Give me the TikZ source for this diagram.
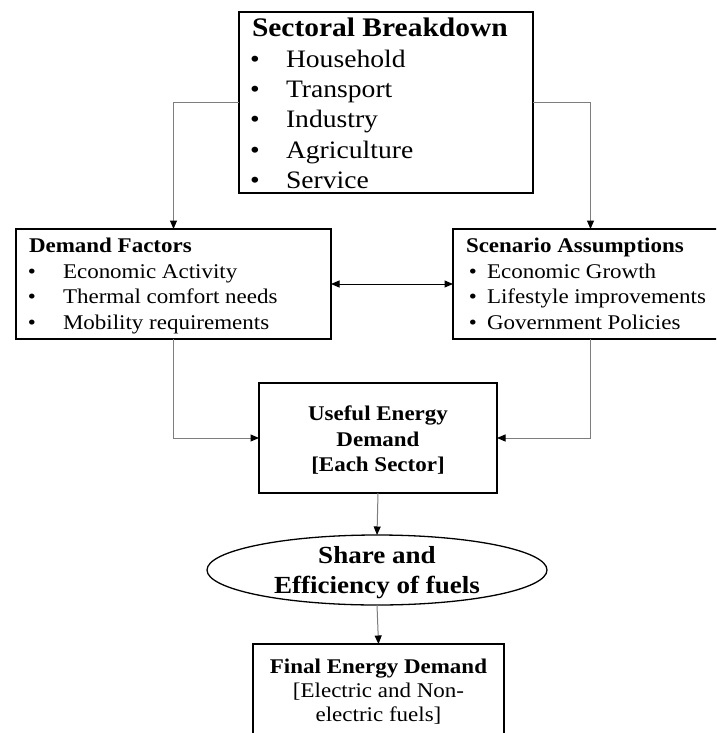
\documentclass[tikz,border=0pt]{standalone}
\usepackage{fontspec}
\setmainfont{Liberation Serif}[FakeStretch=1.10]
\usetikzlibrary{arrows.meta,shapes.geometric}

\newcommand\fsTitle{\fontsize{26.8}{32}\selectfont\bfseries}
\newcommand\fsTop{\fontsize{25.1}{30}\selectfont}
\newcommand\fsMidB{\fontsize{20.9}{25}\selectfont\bfseries}
\newcommand\fsMid{\fontsize{20.9}{25}\selectfont}
\newcommand\fsOval{\fontsize{24.6}{29}\selectfont\bfseries}

\definecolor{linegray}{RGB}{125,125,125}

\begin{document}
\begin{tikzpicture}[x=1pt,y=-1pt,
  box/.style={draw=black,line width=1.3pt,inner sep=0pt,outer sep=0pt},
  oval/.style={ellipse,draw=black,line width=1.3pt,inner sep=0pt,outer sep=0pt},
  lbl/.style={inner sep=0pt,outer sep=0pt,anchor=base west},
  clbl/.style={inner sep=0pt,outer sep=0pt,anchor=base},
  tip/.tip={Triangle[length=8.5pt,width=7pt,color=black]},
  link/.style={draw=linegray,line width=1pt,-tip},
  biarrow/.style={draw=black,line width=1pt,tip-tip}]

\useasboundingbox (0,0) rectangle (716,733);
\clip (0,0) rectangle (716,733);

% boxes
\node[box,minimum width=294pt,minimum height=181pt] (sect) at (386,102.5) {};
\node[box,minimum width=315pt,minimum height=110pt] (dem) at (173.5,284) {};
\node[box,minimum width=275pt,minimum height=110pt] (scen) at (590.5,284) {};
\node[box,minimum width=238pt,minimum height=110pt] (use) at (378,438) {};
\node[oval,minimum width=340pt,minimum height=70pt] (share) at (377,570) {};
\node[box,minimum width=251pt,minimum height=120pt] (fin) at (378.5,704) {};

% sectoral breakdown
\node[lbl] (sectT) at (252,37) {\fsTitle Sectoral Breakdown};
\foreach \y/\t [count=\i] in {68/Household,98/Transport,128/Industry,158/Agriculture,188/Service}{
  \node[clbl] (sectB\i) at (255,\y) {\fsTop\textbullet};
  \node[lbl] (sectI\i) at (286,\y) {\fsTop\t};
}

% demand factors
\node[lbl] (demT) at (29,252) {\fsMidB Demand Factors};
\foreach \y/\t [count=\i] in {278/Economic Activity,303/Thermal comfort needs,329/Mobility requirements}{
  \node[clbl] (demB\i) at (32,\y) {\fsMid\textbullet};
  \node[lbl] (demI\i) at (63,\y) {\fsMid\t};
}

% scenario assumptions
\node[lbl] (scenT) at (466,252) {\fsMidB Scenario Assumptions};
\foreach \y/\t [count=\i] in {278/Economic Growth,303/Lifestyle improvements,329/Government Policies}{
  \node[clbl] (scenB\i) at (473,\y) {\fsMid\textbullet};
  \node[lbl] (scenI\i) at (487,\y) {\fsMid\t};
}

% useful energy demand
\node[clbl] (use1) at (378,420) {\fsMidB Useful Energy};
\node[clbl] (use2) at (378,446) {\fsMidB Demand};
\node[clbl] (use3) at (378,471) {\fsMidB [Each Sector]};

% share and efficiency
\node[clbl] (sh1) at (377,563) {\fsOval Share and};
\node[clbl] (sh2) at (377,593) {\fsOval Efficiency of fuels};

% final energy demand
\node[clbl] (fin1) at (378.5,673) {\fsMidB Final Energy Demand};
\node[clbl] (fin2) at (378.5,697) {\fsMid [Electric and Non-};
\node[clbl] (fin3) at (378.5,721) {\fsMid electric fuels]};

% connectors
\draw[link] (sect.west) -| (dem.north);
\draw[link] (sect.east) -| (scen.north);
\draw[biarrow] (dem.east) -- (scen.west);
\draw[link] (dem.south) |- (use.west);
\draw[link] (scen.south) |- (use.east);
\draw[link] (use.south) -- (share.north);
\draw[link] (share.south) -- (fin.north);
\end{tikzpicture}
\end{document}
